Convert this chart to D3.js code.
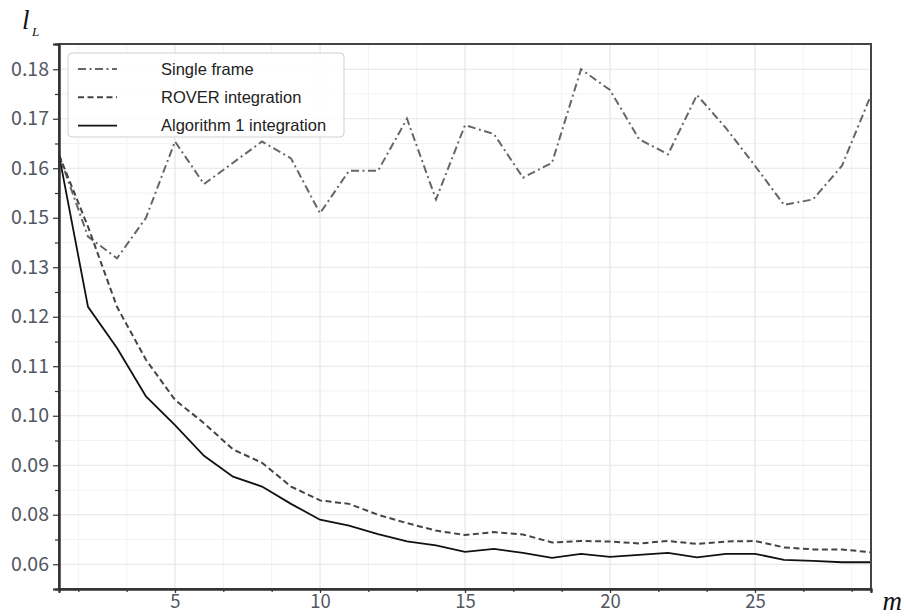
<!DOCTYPE html>
<html>
<head>
<meta charset="utf-8">
<script src="https://cdn.jsdelivr.net/npm/d3@7"></script>
<style>
  body { margin: 0; background: #fff; }
  svg { display: block; }
</style>
</head>
<body>
<div id="chart"></div>
<script>

// frame counts on the x axis
const frames = [1, 2, 3, 4, 5, 6, 7, 8, 9, 10, 11, 12, 13, 14, 15, 16, 17, 18, 19, 20, 21, 22, 23, 24, 25, 26, 27, 28, 29];

const singleFrame = [0.1627, 0.1462, 0.1418, 0.1500, 0.1654, 0.1568, 0.1611, 0.1654, 0.1620, 0.1509,
    0.1595, 0.1595, 0.1700, 0.1537, 0.1687, 0.1669, 0.1581, 0.1611, 0.1800, 0.1758,
    0.1659, 0.1628, 0.1748, 0.1681, 0.1605, 0.1526, 0.1537, 0.1605, 0.1748];

const rover = [0.1627, 0.1482, 0.1320, 0.1213, 0.1132, 0.1085, 0.1032, 0.1005, 0.0957, 0.0929,
    0.0922, 0.0900, 0.0883, 0.0868, 0.0859, 0.0865, 0.0860, 0.0844, 0.0847, 0.0846,
    0.0842, 0.0847, 0.0841, 0.0846, 0.0847, 0.0834, 0.0830, 0.0830, 0.0824];

const algorithm1 = [0.1627, 0.1320, 0.1237, 0.1139, 0.1081, 0.1019, 0.0977, 0.0957, 0.0922, 0.0890,
    0.0878, 0.0861, 0.0846, 0.0838, 0.0825, 0.0831, 0.0823, 0.0813, 0.0821, 0.0815,
    0.0819, 0.0823, 0.0814, 0.0821, 0.0821, 0.0809, 0.0807, 0.0804, 0.0804];

const seriesNames = ["Single frame", "ROVER integration", "Algorithm 1 integration"];

// y ticks and the labels printed next to them (as in the source figure)
const yTicks = [0.18, 0.17, 0.16, 0.15, 0.14, 0.13, 0.12, 0.11, 0.10, 0.09, 0.08];
const yTickLabels = ["0.18", "0.17", "0.16", "0.15", "0.13", "0.12", "0.11", "0.10", "0.09", "0.08", "0.06"];
const xTicks = [5, 10, 15, 20, 25];

const width = 906;
const height = 616;
const margin = { top: 44, right: 35, bottom: 27, left: 59 };

const tickFont = "'Noto Sans CJK JP', 'Noto Sans', sans-serif";

let svg = d3.select("#chart")
    .append("svg")
    .attr("width", width)
    .attr("height", height);

let x = d3.scaleLinear()
    .domain([1, 29])
    .range([margin.left, width - margin.right]);

let y = d3.scaleLinear()
    .domain([0.075, 0.1851])
    .range([height - margin.bottom, margin.top]);

const xMinor = d3.range(0, 30, 5 / 3).filter(v => v > 1.01 && v < 28.99);
const yMinor = yTicks.slice(0, -1).map(v => v - 0.005);

// grid
let grid = svg.append("g");
grid.selectAll(".gx-minor")
    .data(xMinor)
    .enter().append("line")
    .attr("x1", d => x(d)).attr("x2", d => x(d))
    .attr("y1", margin.top).attr("y2", height - margin.bottom)
    .attr("stroke", "#f2f2f2").attr("stroke-width", 1);
grid.selectAll(".gy-minor")
    .data(yMinor)
    .enter().append("line")
    .attr("x1", margin.left).attr("x2", width - margin.right)
    .attr("y1", d => y(d)).attr("y2", d => y(d))
    .attr("stroke", "#f2f2f2").attr("stroke-width", 1);
grid.selectAll(".gx")
    .data(xTicks)
    .enter().append("line")
    .attr("x1", d => x(d)).attr("x2", d => x(d))
    .attr("y1", margin.top).attr("y2", height - margin.bottom)
    .attr("stroke", "#e6e6e6").attr("stroke-width", 1);
grid.selectAll(".gy")
    .data(yTicks)
    .enter().append("line")
    .attr("x1", margin.left).attr("x2", width - margin.right)
    .attr("y1", d => y(d)).attr("y2", d => y(d))
    .attr("stroke", "#e6e6e6").attr("stroke-width", 1);

// lines
let line = d3.line()
    .x((d, i) => x(frames[i]))
    .y(d => y(d));

svg.append("path")
    .datum(singleFrame)
    .attr("d", line)
    .attr("fill", "none")
    .attr("stroke", "#666")
    .attr("stroke-width", 2)
    .attr("stroke-dasharray", "8,3.5,2,3.5");

svg.append("path")
    .datum(rover)
    .attr("d", line)
    .attr("fill", "none")
    .attr("stroke", "#444")
    .attr("stroke-width", 2)
    .attr("stroke-dasharray", "6,3.5");

svg.append("path")
    .datum(algorithm1)
    .attr("d", line)
    .attr("fill", "none")
    .attr("stroke", "#111")
    .attr("stroke-width", 1.8);

// frame
svg.append("rect")
    .attr("x", margin.left)
    .attr("y", margin.top)
    .attr("width", width - margin.left - margin.right)
    .attr("height", height - margin.top - margin.bottom)
    .attr("fill", "none")
    .attr("stroke", "#444")
    .attr("stroke-width", 2);

// axes
let xAxis = svg.append("g")
    .attr("transform", `translate(0,${height - margin.bottom})`)
    .call(d3.axisBottom(x).tickValues(xTicks).tickSize(4).tickPadding(4).tickFormat(d3.format("d")));
svg.append("g")
    .attr("transform", `translate(0,${height - margin.bottom})`)
    .call(d3.axisBottom(x).tickValues(xMinor).tickSize(3).tickFormat(""));

let yAxis = svg.append("g")
    .attr("transform", `translate(${margin.left},0)`)
    .call(d3.axisLeft(y).tickValues(yTicks).tickSize(6).tickPadding(4)
        .tickFormat((d, i) => yTickLabels[i]));
svg.append("g")
    .attr("transform", `translate(${margin.left},0)`)
    .call(d3.axisLeft(y).tickValues(yMinor).tickSize(4).tickFormat(""));

svg.selectAll(".domain").attr("stroke", "#333").attr("stroke-width", 2);
svg.selectAll(".tick line").attr("stroke", "#333").attr("stroke-width", 1.2);
svg.selectAll(".tick text")
    .attr("fill", "#525761")
    .style("font-family", tickFont)
    .style("font-size", "19.5px");
xAxis.selectAll(".tick text")
    .style("font-size", "18.5px")
    .attr("dy", "0.6em");

// axis titles
let yTitle = svg.append("text")
    .attr("x", 22)
    .attr("y", 29)
    .style("font-family", "'Liberation Serif', 'Times New Roman', serif")
    .style("font-style", "italic")
    .style("font-size", "27px")
    .attr("fill", "#111");
yTitle.append("tspan").text("l");
yTitle.append("tspan")
    .attr("x", 32)
    .attr("y", 36)
    .style("font-size", "13px")
    .text("L");

svg.append("text")
    .attr("x", 902)
    .attr("y", 610)
    .attr("text-anchor", "end")
    .style("font-family", "'Liberation Serif', 'Times New Roman', serif")
    .style("font-style", "italic")
    .style("font-size", "27px")
    .attr("fill", "#111")
    .text("m");

// legend
let legend = svg.append("g");
legend.append("rect")
    .attr("x", 68)
    .attr("y", 53)
    .attr("width", 276)
    .attr("height", 84)
    .attr("rx", 4)
    .attr("fill", "#fff")
    .attr("fill-opacity", 0.85)
    .attr("stroke", "#d0d0d0")
    .attr("stroke-width", 1);

const legendStyles = [
    { stroke: "#666", dash: "8,3.5,2,3.5", w: 2 },
    { stroke: "#444", dash: "6,3.5", w: 2 },
    { stroke: "#111", dash: null, w: 1.8 }
];

seriesNames.forEach((name, i) => {
    let ly = 69 + i * 28.3;
    legend.append("line")
        .attr("x1", 78).attr("x2", 117)
        .attr("y1", ly).attr("y2", ly)
        .attr("stroke", legendStyles[i].stroke)
        .attr("stroke-width", legendStyles[i].w)
        .attr("stroke-dasharray", legendStyles[i].dash);
    legend.append("text")
        .attr("x", 161)
        .attr("y", ly + 5.5)
        .style("font-family", "'Liberation Sans', Arial, sans-serif")
        .style("font-size", "16.5px")
        .attr("fill", "#222")
        .text(name);
});

</script>
</body>
</html>
